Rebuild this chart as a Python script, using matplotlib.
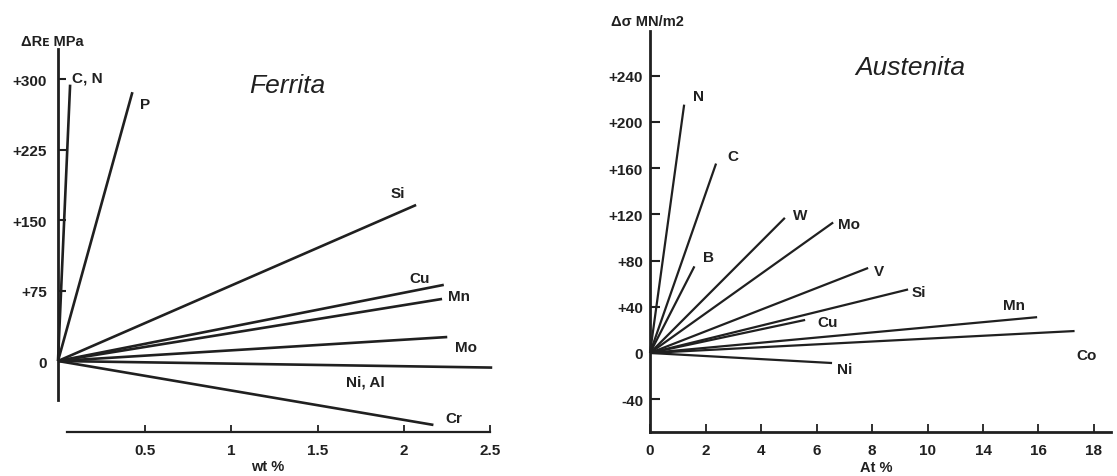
import matplotlib
matplotlib.use('Agg')
import matplotlib.pyplot as plt

plt.rcParams['font.family'] = ['Liberation Sans', 'DejaVu Sans']

# Ferrita: end points of each line (wt %, Delta Re MPa)
fer_names = ['C, N', 'P', 'Si', 'Cu', 'Mn', 'Mo', 'Ni, Al', 'Cr']
fer_x = [0.07, 0.43, 2.07, 2.23, 2.22, 2.25, 2.51, 2.17]
fer_y = [294, 286, 166, 81, 66, 25.5, -7, -68]
fer_yticks = [0, 75, 150, 225, 300]
fer_yticklabels = ['0', '+75', '+150', '+225', '+300']
fer_xticks = [0.5, 1, 1.5, 2, 2.5]
fer_xticklabels = ['0.5', '1', '1.5', '2', '2.5']

# Austenita: end points (At %, Delta sigma MN/m2)
aus_names = ['N', 'C', 'B', 'W', 'Mo', 'V', 'Si', 'Cu', 'Mn', 'Co', 'Ni']
aus_x = [1.23, 2.38, 1.6, 4.86, 6.6, 7.86, 9.3, 5.59, 13.95, 15.3, 6.56]
aus_y = [215, 164, 75, 117, 113, 73.6, 55, 28.6, 31, 19, -8.7]
aus_yticks = [-40, 0, 40, 80, 120, 160, 200, 240]
aus_yticklabels = ['-40', '0', '+40', '+80', '+120', '+160', '+200', '+240']
aus_xticks = [0, 2, 4, 6, 8, 10, 12, 14, 16]
aus_xticklabels = ['0', '2', '4', '6', '8', '10', '14', '16', '18']

ink = '#202020'
fig = plt.figure(figsize=(11.17, 4.77), dpi=100)

# ---------- left panel ----------
ax = fig.add_axes([0.03644, 0.07358, 0.41817, 0.82767])
for x, y in zip(fer_x, fer_y):
    ax.plot([0, x], [0, y], color=ink, lw=1.9, solid_capstyle='butt')
ax.set_xlim(-0.1, 2.6)
ax.set_ylim(-85, 335)
for s in ['top', 'right']:
    ax.spines[s].set_visible(False)
ax.spines['left'].set_position(('data', 0))
ax.spines['left'].set_bounds(-42, 332)
ax.spines['left'].set_linewidth(2.0)
ax.spines['bottom'].set_position(('data', -75))
ax.spines['bottom'].set_bounds(0.05, 2.5)
ax.spines['bottom'].set_linewidth(1.6)
for s in ax.spines.values():
    s.set_color(ink)
ax.set_yticks(fer_yticks, fer_yticklabels)
ax.set_xticks(fer_xticks, fer_xticklabels)
ax.tick_params(axis='y', direction='in', length=6, width=1.5, pad=8, colors=ink)
ax.tick_params(axis='x', direction='in', length=5, width=1.3, pad=8, colors=ink)
for lab in ax.get_xticklabels() + ax.get_yticklabels():
    lab.set_fontweight('bold')
    lab.set_fontsize(11)

lab_pos = {'C, N': (0.081, 302, 'left'), 'P': (0.474, 273, 'left'),
           'Si': (1.965, 179, 'center'), 'Cu': (2.09, 88, 'center'),
           'Mn': (2.32, 69, 'center'), 'Mo': (2.36, 15, 'center'),
           'Ni, Al': (1.775, -22, 'center'), 'Cr': (2.29, -61, 'center')}
for name in fer_names:
    tx, ty, ha = lab_pos[name]
    ax.text(tx, ty, name, ha=ha, va='center', fontsize=11,
            fontweight='bold', color=ink)
ax.text(1.104, 286, 'Ferrita', fontsize=19, style='italic', color=ink,
        va='baseline')
ax.text(-0.035, 340, 'ΔRᴇ MPa', ha='center', va='center', fontsize=10.5,
        fontweight='bold', color=ink)
ax.text(1.214, -112, 'wt %', ha='center', va='center', fontsize=10.5,
        fontweight='bold', color=ink)

# ---------- right panel ----------
ax2 = fig.add_axes([0.54467, 0.07631, 0.45461, 0.87170])
for x, y in zip(aus_x, aus_y):
    ax2.plot([0, x], [0, y], color=ink, lw=1.6, solid_capstyle='butt')
ax2.set_xlim(-1.5, 16.8)
ax2.set_ylim(-75, 285)
for s in ['top', 'right']:
    ax2.spines[s].set_visible(False)
ax2.spines['left'].set_position(('data', 0))
ax2.spines['left'].set_bounds(-68.4, 279)
ax2.spines['left'].set_linewidth(2.0)
ax2.spines['bottom'].set_position(('data', -68.4))
ax2.spines['bottom'].set_bounds(0, 16.6)
ax2.spines['bottom'].set_linewidth(2.0)
for s in ax2.spines.values():
    s.set_color(ink)
ax2.set_yticks(aus_yticks, aus_yticklabels)
ax2.set_xticks(aus_xticks, aus_xticklabels)
ax2.tick_params(axis='y', direction='in', length=7, width=1.5, pad=5, colors=ink)
ax2.tick_params(axis='x', direction='in', length=6, width=1.3, pad=8, colors=ink)
for lab in ax2.get_xticklabels() + ax2.get_yticklabels():
    lab.set_fontweight('bold')
    lab.set_fontsize(11)

aus_lab = {'N': (1.55, 222.5), 'C': (2.77, 170.6), 'B': (1.91, 83),
           'W': (5.15, 119.5), 'Mo': (6.77, 111.7), 'V': (8.07, 71),
           'Si': (9.44, 52.8), 'Cu': (6.02, 26.8), 'Mn': (12.72, 41.6),
           'Co': (15.35, -1.7), 'Ni': (6.74, -13.9)}
for name in aus_names:
    tx, ty = aus_lab[name]
    ax2.text(tx, ty, name, ha='left', va='center', fontsize=11,
             fontweight='bold', color=ink)
ax2.text(7.39, 241.6, 'Austenita', fontsize=19, style='italic', color=ink,
         va='baseline')
ax2.text(-0.1, 287.5, 'Δσ MN/m2', ha='center', va='center', fontsize=10.5,
         fontweight='bold', color=ink)
ax2.text(8.14, -99, 'At %', ha='center', va='center', fontsize=10.5,
         fontweight='bold', color=ink)

fig.savefig('out.png', dpi=100)
